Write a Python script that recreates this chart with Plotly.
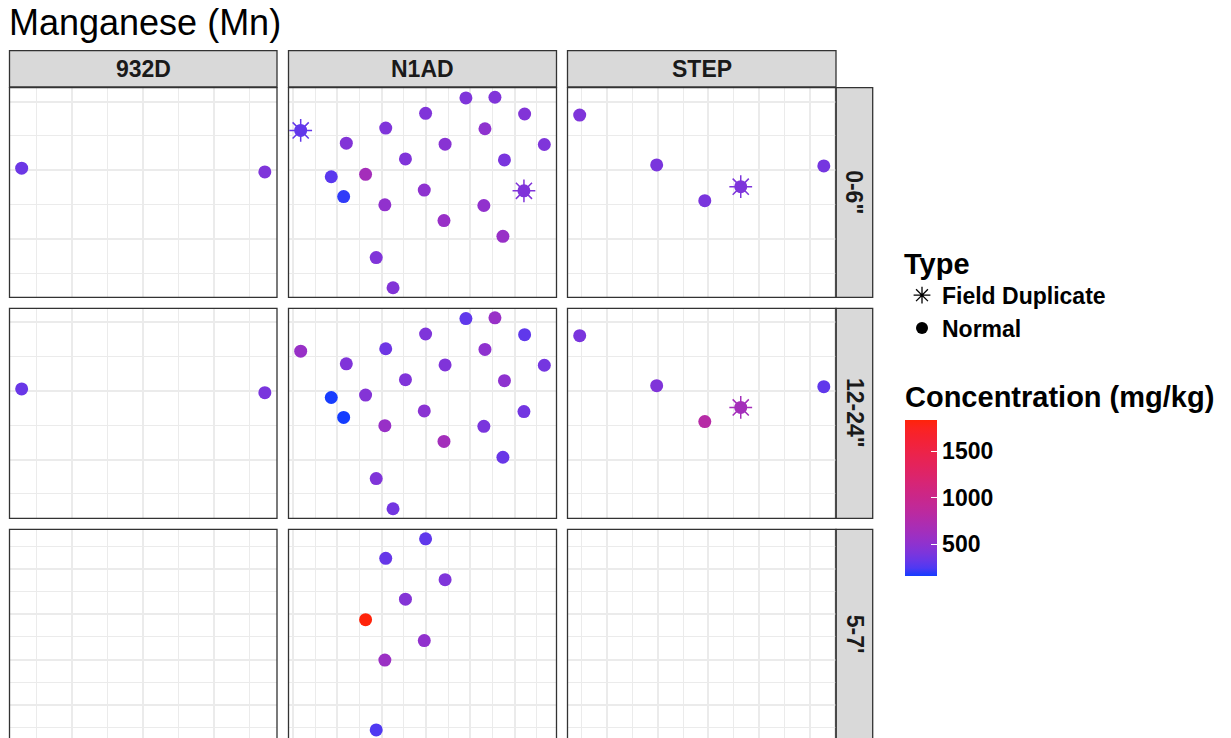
import numpy as np
import plotly.graph_objects as go

# ---------------- data ----------------
sites = ["932D", "N1AD", "STEP"]
depths = ['0-6"', '12-24"', "5-7'"]

# sampling locations (arbitrary local units)
x_932d = [25.8, 94.2]
y_932d = [40.6, 39.5]

x_n1ad = [23.4, 98.0, 111.1, 79.8, 124.5, 61.8, 106.6, 44.0, 88.6, 133.4, 70.7, 115.4,
          37.2, 52.7, 124.2, 79.2, 42.8, 61.4, 106.1, 88.1, 114.7, 57.5, 65.1]
y_n1ad = [51.6, 61.1, 61.3, 56.6, 56.4, 52.3, 52.1, 47.9, 47.6, 47.5, 43.3, 43.0,
          38.1, 38.8, 34.0, 34.2, 32.3, 29.9, 29.7, 25.3, 20.7, 14.5, 5.7]

x_step = [9.2, 39.6, 105.6, 58.6, 72.8]
y_step = [56.1, 41.55, 41.25, 31.1, 35.2]

# Normal samples: Mn concentration (mg/kg)
mn_932d_0_6 = [340, 420]
mn_932d_12_24 = [330, 400]

mn_n1ad_0_6 = [300, 420, 430, 430, 440, 420, 500, 440, 470, 420, 430, 400,
               280, 650, 420, 500, 200, 520, 520, 560, 560, 430, 440]
mn_n1ad_12_24 = [560, 300, 560, 420, 300, 350, 500, 430, 430, 380, 430, 500,
                 165, 450, 370, 480, 160, 560, 400, 640, 330, 430, 370]
n1ad_5_7_locs = [3, 5, 8, 10, 13, 15, 17, 21]
mn_n1ad_5_7 = [300, 320, 420, 450, 1840, 520, 580, 250]

mn_step_0_6 = [420, 400, 380, 400, 420]
mn_step_12_24 = [400, 430, 300, 800, 650]

# Field duplicates: (site, depth index, location index, value)
dup_site = ["N1AD", "N1AD", "STEP", "STEP"]
dup_depth = [0, 0, 0, 1]
dup_loc = [0, 14, 4, 4]
dup_mn = [310, 430, 410, 650]

# ---------------- assemble ----------------
loc = {"932D": (x_932d, y_932d), "N1AD": (x_n1ad, y_n1ad), "STEP": (x_step, y_step)}
normal = {
    ("932D", 0): (list(range(2)), mn_932d_0_6),
    ("932D", 1): (list(range(2)), mn_932d_12_24),
    ("N1AD", 0): (list(range(23)), mn_n1ad_0_6),
    ("N1AD", 1): (list(range(23)), mn_n1ad_12_24),
    ("N1AD", 2): (n1ad_5_7_locs, mn_n1ad_5_7),
    ("STEP", 0): (list(range(5)), mn_step_0_6),
    ("STEP", 1): (list(range(5)), mn_step_12_24),
}

all_vals = [v for _, vals in normal.values() for v in vals] + dup_mn
cmin, cmax = min(all_vals), max(all_vals)


# colour gradient low -> high interpolated in CIE Lab (like ggplot)
def _to_lab(rgb):
    c = np.array(rgb, float) / 255
    c = np.where(c <= 0.04045, c / 12.92, ((c + 0.055) / 1.055) ** 2.4)
    M = np.array([[0.4124564, 0.3575761, 0.1804375],
                  [0.2126729, 0.7151522, 0.0721750],
                  [0.0193339, 0.1191920, 0.9503041]])
    xyz = M @ c / np.array([0.95047, 1.0, 1.08883])
    f = np.where(xyz > 216 / 24389, np.cbrt(xyz), (24389 / 27 * xyz + 16) / 116)
    return np.array([116 * f[1] - 16, 500 * (f[0] - f[1]), 200 * (f[1] - f[2])])


def _from_lab(lab):
    L, a, b = lab
    fy_ = (L + 16) / 116
    fx_ = fy_ + a / 500
    fz_ = fy_ - b / 200
    f = np.array([fx_, fy_, fz_])
    xyz = np.where(f ** 3 > 216 / 24389, f ** 3, (116 * f - 16) / (24389 / 27))
    xyz = xyz * np.array([0.95047, 1.0, 1.08883])
    Minv = np.array([[3.2404542, -1.5371385, -0.4985314],
                     [-0.9692660, 1.8760108, 0.0415560],
                     [0.0556434, -0.2040259, 1.0572252]])
    c = Minv @ xyz
    c = np.clip(c, 0, 1)
    c = np.where(c <= 0.0031308, 12.92 * c, 1.055 * c ** (1 / 2.4) - 0.055)
    c = np.clip(np.round(c * 255), 0, 255).astype(int)
    return "rgb(%d,%d,%d)" % tuple(c)


lab_lo, lab_hi = _to_lab((20, 60, 255)), _to_lab((255, 35, 10))
colorscale = [[t, _from_lab(lab_lo + (lab_hi - lab_lo) * t)] for t in np.linspace(0, 1, 21)]

# ---------------- layout geometry (page pixels) ----------------
W, H = 1231, 738


def fx(p):
    return p / W


def fy(p):
    return 1 - p / H


col_px = [(9.5, 277.0), (288.5, 556.5), (567.5, 836.0)]
row_px = [(87.7, 297.3), (308.3, 518.3), (529.3, 739.5)]
col_dtick = [20, 20, 20]
row_dtick = [20, 20, 10]
strip_top_px, strip_bot_px = 50.7, 87.0
rstrip_px = (836.0, 872.7)

GRID = "#EBEBEB"
BORDER = "#333333"
STRIP = "#D9D9D9"
FONT = "Liberation Sans, Arial, sans-serif"


def pad_range(vals):
    lo, hi = min(vals), max(vals)
    d = hi - lo
    return [lo - 0.05 * d, hi + 0.05 * d]


xr = {s: pad_range(loc[s][0]) for s in sites}
yr = {}
for r in range(3):
    ys = []
    for s in sites:
        if (s, r) in normal:
            ys += [loc[s][1][i] for i in normal[(s, r)][0]]
    yr[r] = pad_range(ys)

fig = go.Figure()
layout = dict(width=W, height=H, margin=dict(l=0, r=0, t=0, b=0),
              paper_bgcolor="white", plot_bgcolor="white",
              font=dict(family=FONT, color="#1A1A1A"))
shapes, annotations = [], []

for r in range(3):
    pt, pb = row_px[r]
    lo, hi = yr[r]
    pb_vis = min(pb, H)
    if pb > H:  # bottom row continues below the visible page
        lo = lo + (hi - lo) * (pb - H) / (pb - pt)
    for c, s in enumerate(sites):
        i = r * 3 + c + 1
        sx = "" if i == 1 else str(i)
        xl, xrr = col_px[c]
        layout["xaxis" + sx] = dict(
            domain=[fx(xl), fx(xrr)], range=xr[s], anchor="y" + sx,
            showticklabels=False, ticks="", zeroline=False, showline=False,
            tick0=0, dtick=col_dtick[c], showgrid=True, gridcolor=GRID, gridwidth=2,
            minor=dict(tick0=0, dtick=col_dtick[c] / 2, showgrid=True,
                       gridcolor=GRID, gridwidth=1, ticks=""))
        layout["yaxis" + sx] = dict(
            domain=[max(fy(pb_vis), 0), fy(pt)], range=[lo, hi], anchor="x" + sx,
            showticklabels=False, ticks="", zeroline=False, showline=False,
            tick0=0, dtick=row_dtick[r], showgrid=True, gridcolor=GRID, gridwidth=2,
            minor=dict(tick0=0, dtick=row_dtick[r] / 2, showgrid=True,
                       gridcolor=GRID, gridwidth=1, ticks=""))
        shapes.append(dict(type="rect", xref="paper", yref="paper",
                           x0=fx(xl), x1=fx(xrr), y0=fy(pb), y1=fy(pt),
                           line=dict(color=BORDER, width=1.3), fillcolor="rgba(0,0,0,0)", layer="above"))
        xref, yref = "x" + sx, "y" + sx
        # empty trace so that every panel (also the empty ones) gets its grid
        fig.add_trace(go.Scatter(x=[], y=[], mode="markers", xaxis=xref, yaxis=yref,
                                 showlegend=False, hoverinfo="skip"))
        if (s, r) in normal:
            idx, vals = normal[(s, r)]
            fig.add_trace(go.Scatter(
                x=[loc[s][0][k] for k in idx], y=[loc[s][1][k] for k in idx],
                mode="markers", xaxis=xref, yaxis=yref, showlegend=False,
                marker=dict(symbol="circle", size=13, color=vals, coloraxis="coloraxis",
                            line=dict(width=0))))
        dk = [j for j in range(len(dup_mn)) if dup_site[j] == s and dup_depth[j] == r]
        if dk:
            fig.add_trace(go.Scatter(
                x=[loc[s][0][dup_loc[j]] for j in dk], y=[loc[s][1][dup_loc[j]] for j in dk],
                mode="markers", xaxis=xref, yaxis=yref, showlegend=False,
                marker=dict(symbol="asterisk-open", size=19, color=[dup_mn[j] for j in dk],
                            coloraxis="coloraxis", line=dict(width=1.5))))

# column strips
for c, s in enumerate(sites):
    xl, xrr = col_px[c]
    shapes.append(dict(type="rect", xref="paper", yref="paper", x0=fx(xl), x1=fx(xrr),
                       y0=fy(strip_bot_px), y1=fy(strip_top_px),
                       line=dict(color=BORDER, width=1.3), fillcolor=STRIP, layer="below"))
    annotations.append(dict(text=s, xref="paper", yref="paper", x=fx((xl + xrr) / 2),
                            y=fy((strip_top_px + strip_bot_px) / 2), showarrow=False,
                            xanchor="center", yanchor="middle",
                            font=dict(size=23, weight="bold", color="#1A1A1A", family=FONT)))
# row strips
for r, d in enumerate(depths):
    pt, pb = row_px[r]
    shapes.append(dict(type="rect", xref="paper", yref="paper", x0=fx(rstrip_px[0]), x1=fx(rstrip_px[1]),
                       y0=fy(pb), y1=fy(pt),
                       line=dict(color=BORDER, width=1.3), fillcolor=STRIP, layer="below"))
    annotations.append(dict(text=d, xref="paper", yref="paper", x=fx(sum(rstrip_px) / 2),
                            y=fy((pt + min(pb, H + 1)) / 2), showarrow=False, textangle=90,
                            xanchor="center", yanchor="middle",
                            font=dict(size=23, weight="bold", color="#1A1A1A", family=FONT)))

# title
annotations.append(dict(text="Manganese (Mn)", xref="paper", yref="paper", x=fx(7), y=fy(22),
                        xanchor="left", yanchor="middle", showarrow=False,
                        font=dict(size=36, color="black", family=FONT)))

# legend entries
fig.add_trace(go.Scatter(x=[None], y=[None], mode="markers", name="Field Duplicate", legendgroup="fd",
                         marker=dict(symbol="asterisk-open", size=14, color="black", line=dict(width=1.3))))
fig.add_trace(go.Scatter(x=[None], y=[None], mode="markers", name="Normal", legendgroup="nm",
                         marker=dict(symbol="circle", size=12, color="black")))

layout["shapes"] = shapes
layout["annotations"] = annotations
layout["legend"] = dict(x=fx(902), y=fy(236), xanchor="left", yanchor="top",
                        bgcolor="rgba(0,0,0,0)", tracegroupgap=0, traceorder="grouped",
                        title=dict(text="Type", font=dict(size=29, weight="bold", color="black", family=FONT)),
                        font=dict(size=23, weight="bold", color="black", family=FONT))
layout["coloraxis"] = dict(
    colorscale=colorscale, cmin=cmin, cmax=cmax,
    colorbar=dict(x=fx(905), xanchor="left", xpad=0, y=fy(575.7), yanchor="bottom", ypad=0,
                  lenmode="pixels", len=193, thickness=32, thicknessmode="pixels", outlinewidth=0,
                  tickvals=[500, 1000, 1500], ticks="inside", ticklen=6, tickcolor="white",
                  tickfont=dict(size=23, weight="bold", color="black", family=FONT),
                  title=dict(text="Concentration (mg/kg)", side="top",
                             font=dict(size=29, weight="bold", color="black", family=FONT))))
fig.update_layout(**layout)
fig.write_html("out.html", config={"displayModeBar": False},
               post_script="document.body.style.margin='0px';document.body.style.overflow='hidden';")
